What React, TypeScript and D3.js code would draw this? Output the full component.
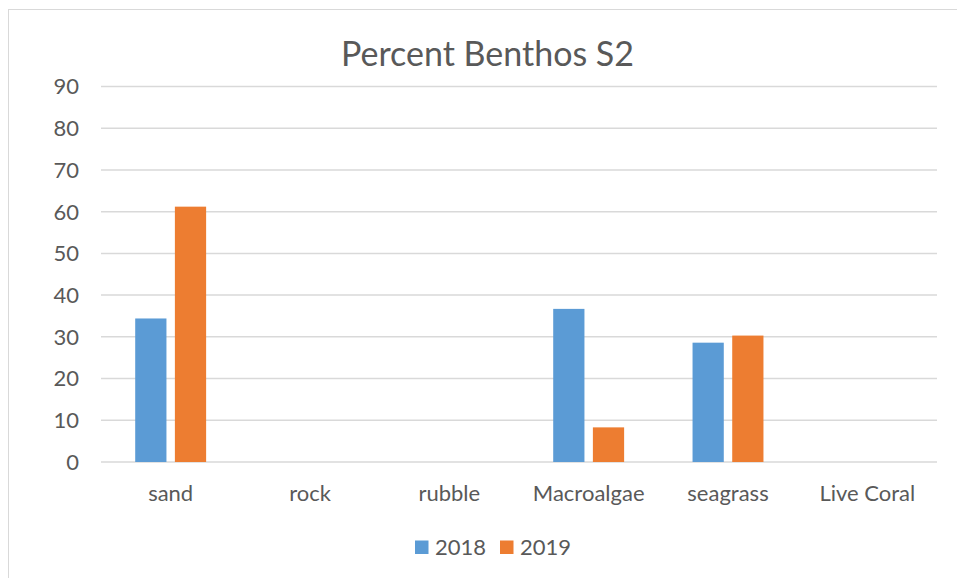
import { useRef, useEffect } from 'react';
import * as d3 from 'd3';

const categories = ['sand', 'rock', 'rubble', 'Macroalgae', 'seagrass', 'Live Coral'];
const seriesNames = ['2018', '2019'];
const values2018 = [34.4, 0, 0, 36.7, 28.6, 0];
const values2019 = [61.2, 0, 0, 8.3, 30.3, 0];
const yTicks = [0, 10, 20, 30, 40, 50, 60, 70, 80, 90];
const colors = ['#5B9BD5', '#ED7D31'];

const FONT = 'Lato, "Open Sans", sans-serif';
const TEXT = '#595959';

export default function App() {
  const svgRef = useRef<SVGSVGElement | null>(null);

  useEffect(() => {
    if (!svgRef.current) return;
    const svg = d3.select(svgRef.current);
    svg.selectAll('*').remove();

    const width = 957;
    const height = 578;
    const plot = { left: 101, right: 937, top: 86.5, bottom: 462 };

    // chart area border (only top and left edges are in view)
    svg.append('rect')
      .attr('x', 8.5)
      .attr('y', 9.5)
      .attr('width', width + 20)
      .attr('height', height + 20)
      .attr('fill', '#fff')
      .attr('stroke', '#D9D9D9')
      .attr('stroke-width', 1);

    const x = d3.scaleBand()
      .domain(categories)
      .range([plot.left, plot.right])
      .padding(0);

    // Excel-style: gap width 219%, overlap -27%
    const barW = x.bandwidth() / 4.46;
    const inner = d3.scaleBand()
      .domain(seriesNames)
      .range([0, barW * 2.27])
      .paddingInner(1 - 1 / 1.27)
      .paddingOuter(0);

    const y = d3.scaleLinear()
      .domain([0, 90])
      .range([plot.bottom, plot.top]);

    // Title
    svg.append('text')
      .attr('x', 487.5)
      .attr('y', 66)
      .attr('text-anchor', 'middle')
      .attr('font-family', FONT)
      .attr('font-size', '34px')
      .attr('fill', TEXT)
      .text('Percent Benthos S2');

    // Gridlines
    svg.append('g')
      .selectAll('line')
      .data(yTicks)
      .join('line')
      .attr('x1', plot.left)
      .attr('x2', plot.right)
      .attr('y1', d => y(d))
      .attr('y2', d => y(d))
      .attr('stroke', '#D9D9D9')
      .attr('stroke-width', 1.5);

    // Y labels
    svg.append('g')
      .selectAll('text')
      .data(yTicks)
      .join('text')
      .attr('x', 79)
      .attr('y', d => y(d))
      .attr('dy', '0.36em')
      .attr('text-anchor', 'end')
      .attr('font-family', FONT)
      .attr('font-size', '22px')
      .attr('fill', TEXT)
      .text(d => d);

    // Bars
    const series = [values2018, values2019];
    series.forEach((vals, si) => {
      svg.append('g')
        .selectAll('rect')
        .data(vals.map((v, i) => ({ v, c: categories[i] })))
        .join('rect')
        .attr('x', d => (x(d.c) as number) + x.bandwidth() / 2 - barW * 1.135 + (inner(seriesNames[si]) as number))
        .attr('y', d => y(d.v))
        .attr('width', inner.bandwidth())
        .attr('height', d => y(0) - y(d.v))
        .attr('fill', colors[si]);
    });

    // Category labels
    svg.append('g')
      .selectAll('text')
      .data(categories)
      .join('text')
      .attr('x', d => (x(d) as number) + x.bandwidth() / 2)
      .attr('y', 493)
      .attr('dy', '0.36em')
      .attr('text-anchor', 'middle')
      .attr('font-family', FONT)
      .attr('font-size', '22px')
      .attr('fill', TEXT)
      .text(d => d);

    // Legend
    const legendX = [415, 500];
    const lg = svg.append('g');
    seriesNames.forEach((name, i) => {
      lg.append('rect')
        .attr('x', legendX[i])
        .attr('y', 540.5)
        .attr('width', 13.5)
        .attr('height', 13.5)
        .attr('fill', colors[i]);
      lg.append('text')
        .attr('x', legendX[i] + 20)
        .attr('y', 547.5)
        .attr('dy', '0.36em')
        .attr('font-family', FONT)
        .attr('font-size', '22px')
        .attr('fill', TEXT)
        .text(name);
    });
  }, []);

  return (
    <div style={{ position: 'fixed', left: 0, top: 0, width: 957, height: 578, background: '#fff' }}>
      <svg ref={svgRef} width={957} height={578} style={{ display: 'block' }} />
    </div>
  );
}
